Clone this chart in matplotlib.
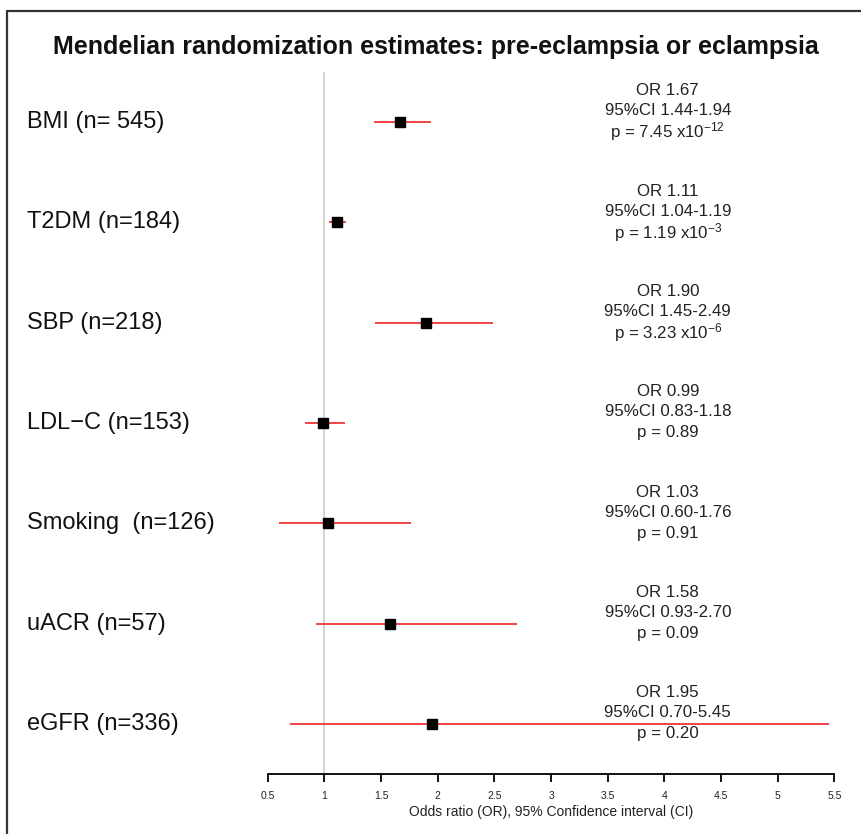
import matplotlib
matplotlib.use("Agg")
import matplotlib.pyplot as plt
from matplotlib.lines import Line2D
import matplotlib.transforms as mtransforms

plt.rcParams['font.family'] = ['Liberation Sans', 'DejaVu Sans']
plt.rcParams['mathtext.fontset'] = 'custom'
plt.rcParams['mathtext.rm'] = 'Liberation Sans'
plt.rcParams['mathtext.it'] = 'Liberation Sans:italic'
plt.rcParams['mathtext.bf'] = 'Liberation Sans:bold'

# данные
labels = ["BMI (n= 545)", "T2DM (n=184)", "SBP (n=218)", "LDL\u2212C (n=153)",
          "Smoking  (n=126)", "uACR (n=57)", "eGFR (n=336)"]
odds = [1.67, 1.11, 1.90, 0.99, 1.03, 1.58, 1.95]
ci_low = [1.44, 1.04, 1.45, 0.83, 0.60, 0.93, 0.70]
ci_high = [1.94, 1.19, 2.49, 1.18, 1.76, 2.70, 5.45]
p_text = [r"p = 7.45 x10$^{-12}$", r"p = 1.19 x10$^{-3}$", r"p = 3.23 x10$^{-6}$",
          "p = 0.89", "p = 0.91", "p = 0.09", "p = 0.20"]
xticks = [0.5, 1, 1.5, 2, 2.5, 3, 3.5, 4, 4.5, 5, 5.5]
xtick_labels = ["0.5", "1", "1.5", "2", "2.5", "3", "3.5", "4", "4.5", "5", "5.5"]

W, H = 861, 834
fig = plt.figure(figsize=(W / 100, H / 100), dpi=100)
fig.patch.set_facecolor("white")

# оси
ax = fig.add_axes([267.7 / W, 1 - 774 / H, (834.4 - 267.7) / W, (774 - 71.7) / H])
ax.set_xlim(0.5, 5.5)
ax.set_ylim(0.5, 7.5)
for s in ["top", "right", "left"]:
    ax.spines[s].set_visible(False)
ax.spines["bottom"].set_linewidth(1.3)
ax.set_yticks([])
ax.set_xticks(xticks)
ax.set_xticklabels(xtick_labels, fontsize=7.5, color="#222222")
ax.tick_params(axis="x", length=6, width=1.3, pad=6)

ax.axvline(1, color="#d4d4d4", lw=1.5, zorder=0)

ypos = list(range(len(labels), 0, -1))
ax.hlines(ypos, ci_low, ci_high, color="#ee2222", lw=1.2, zorder=2)
ax.plot(odds, ypos, "s", color="black", markersize=7.2, zorder=3)

trans = mtransforms.blended_transform_factory(fig.transFigure, ax.transData)
for y, lab, o, lo, hi, p in zip(ypos, labels, odds, ci_low, ci_high, p_text):
    ax.text(27 / W, y, lab, transform=trans, fontsize=17, va="center", ha="left", color="#111111")
    ax.text(4.03, y + 0.31, "OR %.2f" % o, fontsize=12.2, ha="center", va="center", color="#222222")
    ax.text(4.03, y + 0.11, "95%%CI %.2f-%.2f" % (lo, hi), fontsize=12.2, ha="center", va="center", color="#222222")
    ax.text(4.03, y - 0.10, p, fontsize=12.2, ha="center", va="center", color="#222222")

fig.text(436 / W, 1 - 47 / H, "Mendelian randomization estimates: pre-eclampsia or eclampsia",
         fontsize=18, fontweight="bold", ha="center", va="center", color="#111111")
fig.text((267.7 + 834.4) / 2 / W, 1 - 811.7 / H, "Odds ratio (OR), 95% Confidence interval (CI)",
         fontsize=10, ha="center", va="center", color="#222222")

# рамка слева и сверху
fig.add_artist(Line2D([7 / W, 7 / W, 1], [0, 1 - 10.7 / H, 1 - 10.7 / H],
                      transform=fig.transFigure, color="#333333", lw=1.6))

fig.savefig("out.png", dpi=100)
